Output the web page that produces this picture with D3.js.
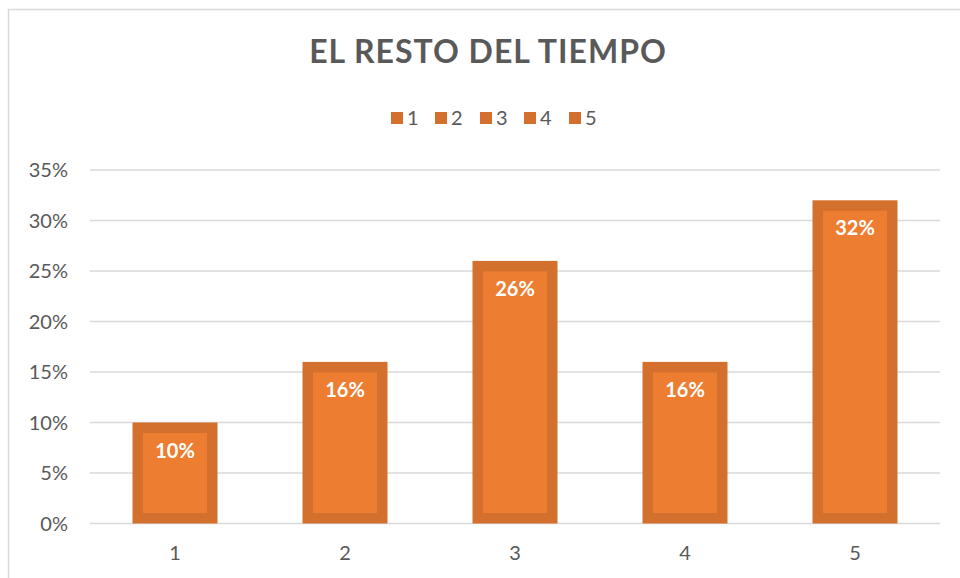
<!DOCTYPE html>
<html>
<head>
<meta charset="utf-8">
<script src="https://cdn.jsdelivr.net/npm/d3@7"></script>
<style>
  html, body { margin: 0; padding: 0; background: #fff; }
  svg { display: block; font-family: Lato, "Open Sans", sans-serif; }
</style>
</head>
<body>
<div id="chart"></div>
<script>
// ===== 数据 =====
const categories = ["1", "2", "3", "4", "5"];
const values = [0.10, 0.16, 0.26, 0.16, 0.32];
const yTicks = [0, 0.05, 0.10, 0.15, 0.20, 0.25, 0.30, 0.35];
const title = "EL RESTO DEL TIEMPO";

const W = 960, H = 578;
const M = { left: 90, right: 20, top: 170, bottom: 54 };
const fillColor = "#ED7D31";
const edgeColor = "#D3702E";
const textColor = "#595959";
const border = 10.5;

const svg = d3.select("#chart").append("svg")
  .attr("width", W).attr("height", H);

// 外框
svg.append("rect")
  .attr("x", 8.5).attr("y", 9.5)
  .attr("width", W).attr("height", H)
  .attr("fill", "none").attr("stroke", "#D9D9D9").attr("stroke-width", 1.5);

const x = d3.scaleBand().domain(categories).range([M.left, W - M.right]).paddingInner(0.5).paddingOuter(0.25);
const y = d3.scaleLinear().domain([0, 0.35]).range([H - M.bottom - 0.5, M.top]);

// 网格线
svg.append("g").selectAll("line").data(yTicks).join("line")
  .attr("x1", M.left).attr("x2", W - M.right)
  .attr("y1", d => y(d)).attr("y2", d => y(d))
  .attr("stroke", "#D9D9D9").attr("stroke-width", 1.3);

// y 轴标签
svg.append("g").selectAll("text").data(yTicks).join("text")
  .attr("x", 68).attr("y", d => y(d))
  .attr("dy", "0.35em").attr("text-anchor", "end")
  .attr("fill", textColor).attr("font-size", 20)
  .text(d => d3.format(".0%")(d));

// x 轴标签
svg.append("g").selectAll("text").data(categories).join("text")
  .attr("x", d => x(d) + x.bandwidth() / 2).attr("y", 553)
  .attr("dy", "0.35em").attr("text-anchor", "middle")
  .attr("fill", textColor).attr("font-size", 20)
  .text(d => d);

// 柱子
const bars = svg.append("g").selectAll("g").data(values).join("g");
bars.append("rect")
  .attr("x", (d, i) => x(categories[i]))
  .attr("y", d => y(d))
  .attr("width", x.bandwidth())
  .attr("height", d => y(0) - y(d))
  .attr("fill", edgeColor);
bars.append("rect")
  .attr("x", (d, i) => x(categories[i]) + border)
  .attr("y", d => y(d) + border)
  .attr("width", x.bandwidth() - 2 * border)
  .attr("height", d => y(0) - y(d) - 2 * border)
  .attr("fill", fillColor);
bars.append("text")
  .attr("x", (d, i) => x(categories[i]) + x.bandwidth() / 2)
  .attr("y", d => y(d) + 28)
  .attr("dy", "0.35em").attr("text-anchor", "middle")
  .attr("fill", "#fff").attr("font-size", 20).attr("font-weight", "bold")
  .text(d => d3.format(".0%")(d));

// 标题
svg.append("text")
  .attr("x", 488).attr("y", 52).attr("dy", "0.35em")
  .attr("text-anchor", "middle")
  .attr("fill", textColor).attr("font-size", 32).attr("font-weight", "bold")
  .attr("letter-spacing", 1)
  .text(title);

// 图例
const legendX = [391, 435, 480, 524, 569];
const legend = svg.append("g").selectAll("g").data(categories).join("g")
  .attr("transform", (d, i) => `translate(${legendX[i]},118)`);
legend.append("rect")
  .attr("x", 0).attr("y", -6).attr("width", 12).attr("height", 12)
  .attr("fill", edgeColor);
legend.append("text")
  .attr("x", 16).attr("y", 0).attr("dy", "0.35em")
  .attr("fill", textColor).attr("font-size", 20)
  .text(d => d);
</script>
</body>
</html>
